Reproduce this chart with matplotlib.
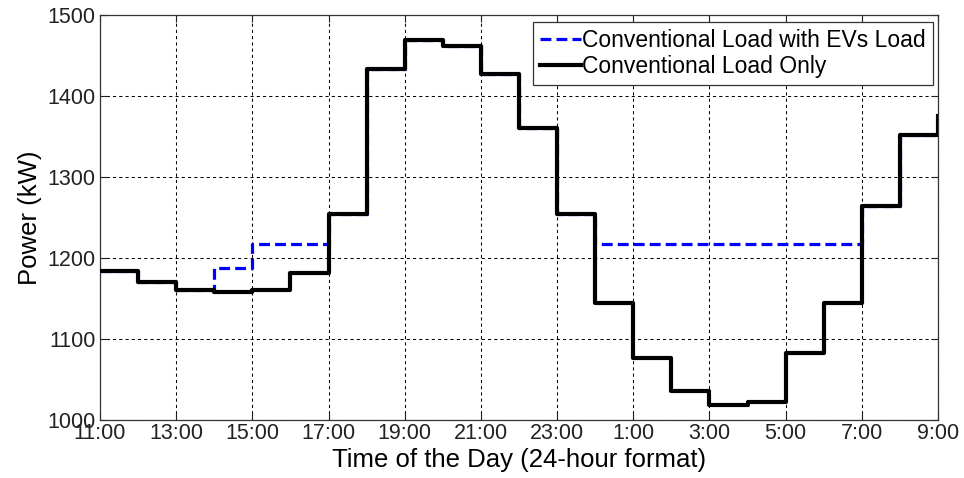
import matplotlib
matplotlib.use("Agg")
import matplotlib.pyplot as plt

plt.rcParams['font.family'] = ['Liberation Sans', 'DejaVu Sans']

# Hour of day (continuing past midnight as 24..33) at which each interval starts
hours = list(range(11, 34))
load_only = [1184, 1170, 1161, 1158, 1161, 1181, 1255, 1434, 1469, 1462, 1428,
             1361, 1255, 1145, 1076, 1036, 1018, 1022, 1083, 1144, 1264, 1352, 1375]
load_with_ev = [1184, 1170, 1161, 1188, 1218, 1218, 1255, 1434, 1469, 1462, 1428,
                1361, 1255, 1218, 1218, 1218, 1218, 1218, 1218, 1218, 1264, 1352, 1375]

tick_hours = list(range(11, 34, 2))
tick_labels = ["11:00", "13:00", "15:00", "17:00", "19:00", "21:00", "23:00",
               "1:00", "3:00", "5:00", "7:00", "9:00"]
y_ticks = [1000, 1100, 1200, 1300, 1400, 1500]

fig = plt.figure(figsize=(9.64, 4.78), dpi=100)
ax = fig.add_axes([100 / 964, 1 - 420 / 478, 838 / 964, (420 - 15.3) / 478])

ax.step(hours, load_with_ev, where='post', color='#0000ff', lw=2.3,
        linestyle=(0, (3.4, 1.6)), label='Conventional Load with EVs Load', zorder=3)
ax.step(hours, load_only, where='post', color='black', lw=3.0,
        label='Conventional Load Only', zorder=4)

ax.set_xlim(11, 33)
ax.set_ylim(1000, 1500)
ax.set_xticks(tick_hours)
ax.set_xticklabels(tick_labels)
ax.set_yticks(y_ticks)

ax.grid(True, color='black', linestyle=(0, (3, 3)), lw=0.75)
ax.tick_params(direction='in', length=5, width=0.8, top=True, right=True,
               labelsize=15.5, colors='#222222', pad=3)
ax.tick_params(axis='x', pad=2)
for s in ax.spines.values():
    s.set_linewidth(0.9)
    s.set_color('#333333')

ax.set_xlabel('Time of the Day (24-hour format)', fontsize=18.5, labelpad=3)
ax.set_ylabel('Power (kW)', fontsize=18.5, labelpad=4)

leg = ax.legend(loc='upper right', bbox_to_anchor=(0.994, 0.983), fontsize=16.5,
                handlelength=1.8, handletextpad=0.05, borderpad=0.3,
                labelspacing=0.15, fancybox=False, framealpha=1,
                edgecolor='#333333', borderaxespad=0)
leg.get_frame().set_linewidth(0.9)

fig.savefig('out.png', dpi=100)
